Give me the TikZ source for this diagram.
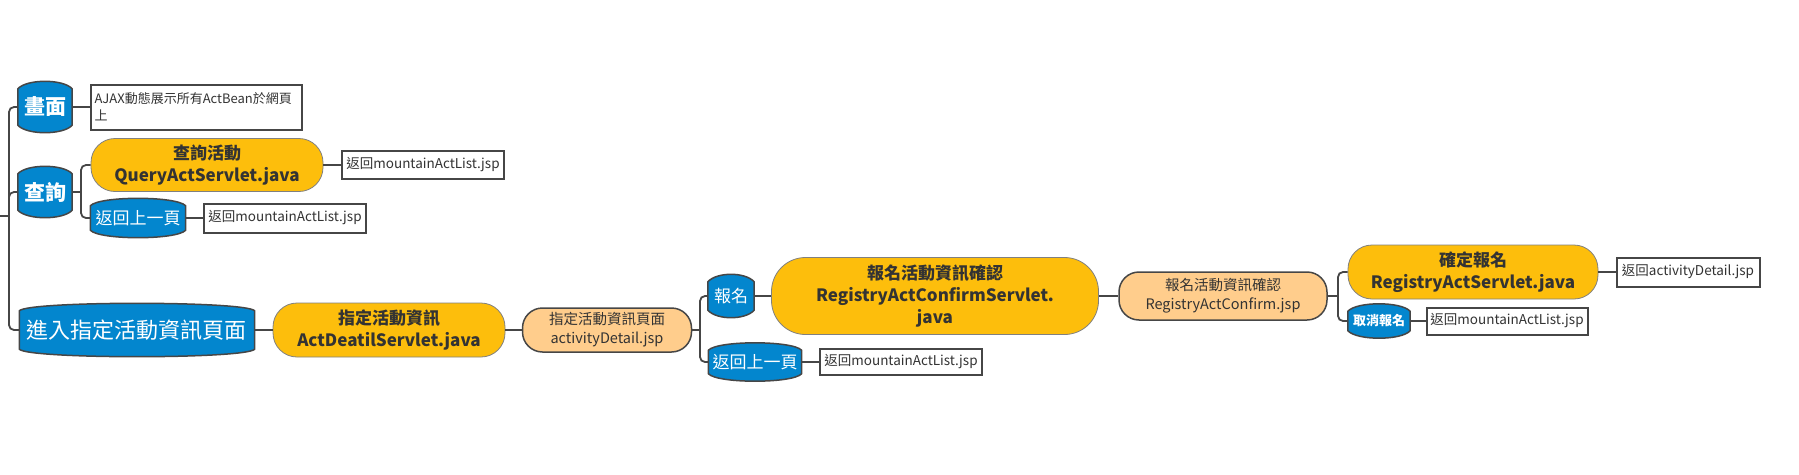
\documentclass[tikz,border=0pt]{standalone}
\usepackage{fontspec}
\setmainfont{Noto Sans CJK TC}
\usepackage{tikz}
\usetikzlibrary{backgrounds}
\definecolor{tabblue}{RGB}{3,134,206}
\definecolor{servletyellow}{RGB}{253,190,12}
\definecolor{pageorange}{RGB}{255,205,140}
\definecolor{linegray}{RGB}{70,70,70}
\definecolor{textgray}{RGB}{51,51,51}

% blue tab with bulged top and bottom, drawn behind a named node
\newcommand{\tabshape}[1]{%
  \draw[tabborder] (#1.south west) -- (#1.north west)
    .. controls +(9,-10) and +(-9,-10) .. (#1.north east) -- (#1.south east)
    .. controls +(-9,10) and +(9,10) .. (#1.south west) -- cycle;}

\begin{document}
\begin{tikzpicture}[x=1pt, y=-1pt,
    link/.style={draw=linegray, line width=1.8pt, rounded corners=5pt},
    tab/.style={rectangle, inner sep=0pt, text=white, align=center},
    tabborder/.style={fill=tabblue, draw=linegray, line width=1.5pt},
    servlet/.style={rectangle, fill=servletyellow, draw=gray, line width=0.8pt, rounded corners=24pt, inner sep=0pt, align=center, text=textgray, font=\bfseries\fontsize{17}{22}\selectfont},
    page/.style={rectangle, fill=pageorange, draw=linegray, line width=1.5pt, rounded corners=20pt, inner sep=0pt, align=center, text=textgray, font=\fontsize{14.5}{19}\selectfont},
    note/.style={rectangle, fill=white, draw=linegray, line width=2pt, inner sep=0pt, text=textgray, font=\fontsize{13.5}{17}\selectfont}]
    \useasboundingbox (0,0) rectangle (1799,474);

    % Blue tabs
    \node[tab, minimum width=54pt, minimum height=36pt, font=\bfseries\fontsize{21}{21}\selectfont] (view) at (45,107) {畫面};
    \node[tab, minimum width=54pt, minimum height=36pt, font=\bfseries\fontsize{21}{21}\selectfont] (query) at (45,192) {查詢};
    \node[tab, minimum width=95pt, minimum height=24pt, font=\fontsize{17}{17}\selectfont] (backA) at (138,218) {返回上一頁};
    \node[tab, minimum width=235pt, minimum height=38pt, font=\fontsize{22}{22}\selectfont] (enter) at (137,330) {進入指定活動資訊頁面};
    \node[tab, minimum width=46pt, minimum height=28pt, font=\fontsize{17}{17}\selectfont] (signup) at (731,296) {報名};
    \node[tab, minimum width=93pt, minimum height=23pt, font=\fontsize{17}{17}\selectfont] (backB) at (755,362) {返回上一頁};
    \node[tab, minimum width=62pt, minimum height=19pt, font=\bfseries\fontsize{13}{13}\selectfont] (cancel) at (1379,321) {取消報名};

    % Servlets
    \node[servlet, minimum width=232pt, minimum height=53pt] (queryServ) at (207,165) {查詢活動\\QueryActServlet.java};
    \node[servlet, minimum width=232pt, minimum height=54pt] (detailServ) at (389,330) {指定活動資訊\\ActDeatilServlet.java};
    \node[servlet, minimum width=327pt, minimum height=77pt, rounded corners=34pt] (confirmServ) at (935,296) {報名活動資訊確認\\RegistryActConfirmServlet.\\java};
    \node[servlet, minimum width=250pt, minimum height=54pt] (registServ) at (1473,272) {確定報名\\RegistryActServlet.java};

    % JSP pages
    \node[page, minimum width=169pt, minimum height=44pt] (detailPage) at (607,330) {指定活動資訊頁面\\activityDetail.jsp};
    \node[page, minimum width=208pt, minimum height=48pt] (confirmPage) at (1223,296) {報名活動資訊確認\\RegistryActConfirm.jsp};

    % Notes
    \node[note, minimum width=211pt, minimum height=45pt, text width=203pt, align=left, font=\fontsize{13}{17}\selectfont] (ajaxNote) at (196,107) {AJAX動態展示所有ActBean於網頁\\上};
    \node[note, minimum width=162pt, minimum height=28pt] (queryNote) at (423,165) {返回mountainActList.jsp};
    \node[note, minimum width=162pt, minimum height=29pt] (backNoteA) at (285,218) {返回mountainActList.jsp};
    \node[note, minimum width=162pt, minimum height=26pt] (backNoteB) at (901,362) {返回mountainActList.jsp};
    \node[note, minimum width=143pt, minimum height=29pt] (registNote) at (1688,272) {返回activityDetail.jsp};
    \node[note, minimum width=161pt, minimum height=27pt] (cancelNote) at (1507,321) {返回mountainActList.jsp};

    \begin{scope}[on background layer]
        \foreach \t in {view,query,backA,enter,signup,backB,cancel} {\tabshape{\t}}
    \end{scope}

    % Branches
    \coordinate (root) at (0,216);
    \coordinate (trunk) at (9,216);
    \coordinate (queryFork) at (81,192);
    \coordinate (pageFork) at (700,330);
    \coordinate (confirmFork) at (1338,296);

    \draw[link] (root) -- (trunk);
    \draw[link] (trunk) |- (view.west);
    \draw[link] (trunk) |- (query.west);
    \draw[link] (trunk) |- (enter.west);
    \draw[link] (view.east) -- (ajaxNote.west);
    \draw[link] (query.east) -- (queryFork);
    \draw[link] (queryFork) |- (queryServ.west);
    \draw[link] (queryFork) |- (backA.west);
    \draw[link] (queryServ.east) -- (queryNote.west);
    \draw[link] (backA.east) -- (backNoteA.west);
    \draw[link] (enter.east) -- (detailServ.west);
    \draw[link] (detailServ.east) -- (detailPage.west);
    \draw[link] (detailPage.east) -- (pageFork);
    \draw[link] (pageFork) |- (signup.west);
    \draw[link] (pageFork) |- (backB.west);
    \draw[link] (signup.east) -- (confirmServ.west);
    \draw[link] (backB.east) -- (backNoteB.west);
    \draw[link] (confirmServ.east) -- (confirmPage.west);
    \draw[link] (confirmPage.east) -- (confirmFork);
    \draw[link] (confirmFork) |- (registServ.west);
    \draw[link] (confirmFork) |- (cancel.west);
    \draw[link] (registServ.east) -- (registNote.west);
    \draw[link] (cancel.east) -- (cancelNote.west);
\end{tikzpicture}
\end{document}
